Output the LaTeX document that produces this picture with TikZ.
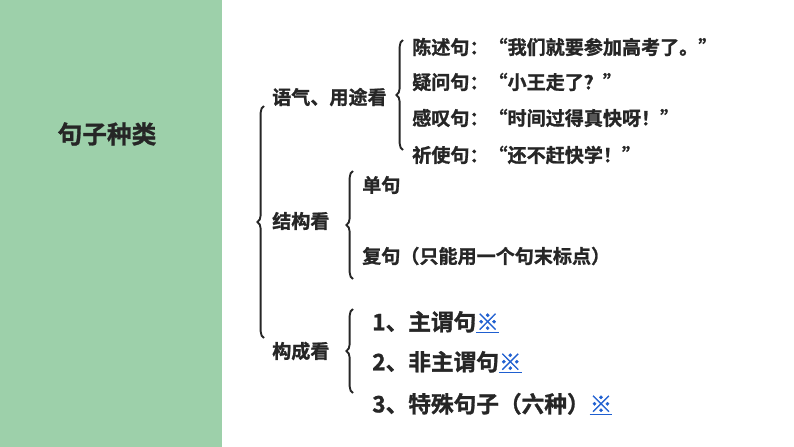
\documentclass[tikz,border=0pt]{standalone}
\usepackage{fontspec}
\newfontfamily\cjk[FakeBold=1.2]{Noto Sans CJK SC Bold}
\usetikzlibrary{decorations.pathreplacing}
\definecolor{panel}{HTML}{9DD0AA}
\definecolor{ink}{HTML}{262626}
\definecolor{lnk}{HTML}{1F5FD0}
\tikzset{x=0.75pt,y=-0.75pt,
 t/.style={anchor=west,inner sep=0pt,font=\cjk\fontsize{14.3}{16}\selectfont,text=ink},
 big/.style={anchor=west,inner sep=0pt,font=\cjk\fontsize{17}{19}\selectfont,text=ink},
 br/.style={decorate,decoration={brace,amplitude=5pt},line width=1.4pt,draw=ink}}
\newcommand{\lk}{\textcolor{lnk}{\underline{※}}}
\begin{document}
\begin{tikzpicture}
\useasboundingbox (0,0) rectangle (794,447);
\fill[panel] (0,0) rectangle (222,447);
\node[inner sep=0pt,font=\cjk\fontsize{18.5}{20}\selectfont,text=ink] (title) at (107,134) {句子种类};
\node[t] (a) at (272,97) {语气、用途看};
\node[t] (b) at (272,221) {结构看};
\node[t] (c) at (272,351) {构成看};
\node[t] (a1) at (412,47) {陈述句：“我们就要参加高考了。”};
\node[t] (a2) at (412,82) {疑问句：“小王走了？”};
\node[t] (a3) at (412,118) {感叹句：“时间过得真快呀！”};
\node[t] (a4) at (412,155) {祈使句：“还不赶快学！”};
\node[t] (b1) at (362,185) {单句};
\node[t] (b2) at (362,256) {复句（只能用一个句末标点）};
\node[big] (c1) at (372,322) {1、主谓句\lk};
\node[big] (c2) at (372,362) {2、非主谓句\lk};
\node[big] (c3) at (372,404) {3、特殊句子（六种）\lk};
\draw[br] (264,338) -- (264,106);
\draw[br] (403,150) -- (403,40);
\draw[br] (353,279) -- (353,171);
\draw[br] (353,393) -- (353,309);
\end{tikzpicture}
\end{document}
